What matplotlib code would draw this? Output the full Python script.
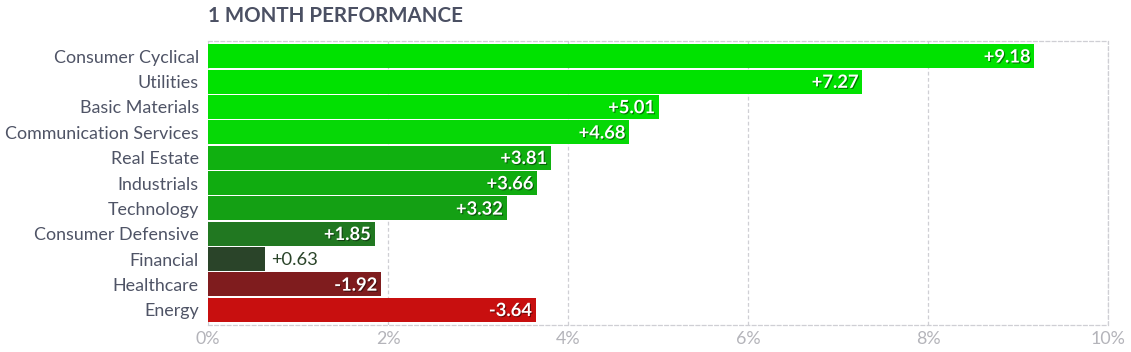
import matplotlib
matplotlib.use("Agg")
import matplotlib.pyplot as plt
import matplotlib.patheffects as pe

sectors = ["Consumer Cyclical", "Utilities", "Basic Materials", "Communication Services",
           "Real Estate", "Industrials", "Technology", "Consumer Defensive",
           "Financial", "Healthcare", "Energy"]
perf = [9.18, 7.27, 5.01, 4.68, 3.81, 3.66, 3.32, 1.85, 0.63, -1.92, -3.64]
colors = ["#00e200", "#00e200", "#02e002", "#06d806", "#10b010", "#10ac10", "#14a014",
          "#217821", "#2a4429", "#7f1c1e", "#c80f0f"]
xticks = [0, 2, 4, 6, 8, 10]

plt.rcParams["font.family"] = ["Lato", "DejaVu Sans"]

W, H = 1131, 352
fig = plt.figure(figsize=(W / 100, H / 100), dpi=100)
ax = fig.add_axes([208 / W, 1 - 325 / H, 900 / W, 284 / H])

ypos = list(range(len(sectors)))
ax.barh(ypos, [abs(v) for v in perf], height=0.95, color=colors, zorder=3)
ax.set_ylim(len(sectors) - 0.4, -0.6)
ax.set_xlim(0, 10)

# value labels: inside the bar (white, shadowed) or just outside for short bars
shadow = [pe.withSimplePatchShadow(offset=(0.8, -0.8), shadow_rgbFace="black", alpha=0.45)]
for y, v in zip(ypos, perf):
    lab = f"{v:+.2f}"
    if abs(v) > 1:
        ax.text(abs(v) - 0.04, y + 0.03, lab, ha="right", va="center", color="white",
                fontsize=13.2, fontweight="bold", path_effects=shadow, zorder=4)
    else:
        ax.text(abs(v) + 0.07, y + 0.03, lab, ha="left", va="center", color="#2a4429",
                fontsize=13.2, zorder=4)

ax.set_yticks(ypos)
ax.set_yticklabels(sectors, fontsize=12.9, color="#4f5466")
ax.set_xticks(xticks)
ax.set_xticklabels([f"{t}%" for t in xticks], fontsize=12.9, color="#b4b4ba")
ax.tick_params(axis="y", length=0, pad=6.6)
ax.tick_params(axis="x", length=0, pad=4)

ax.grid(axis="x", color="#cfcfd4", linestyle=(0, (3, 2)), linewidth=0.9, zorder=0)
ax.spines["left"].set_visible(False)
for side in ["top", "bottom", "right"]:
    ax.spines[side].set_color("#cfcfd4")
    ax.spines[side].set_linestyle((0, (3, 2)))
    ax.spines[side].set_linewidth(0.9)

fig.text(208 / W, 1 - 16 / H, "1 MONTH PERFORMANCE", ha="left", va="center",
         fontsize=14.8, fontweight="bold", color="#4b5063")

fig.savefig("out.png", dpi=100)
